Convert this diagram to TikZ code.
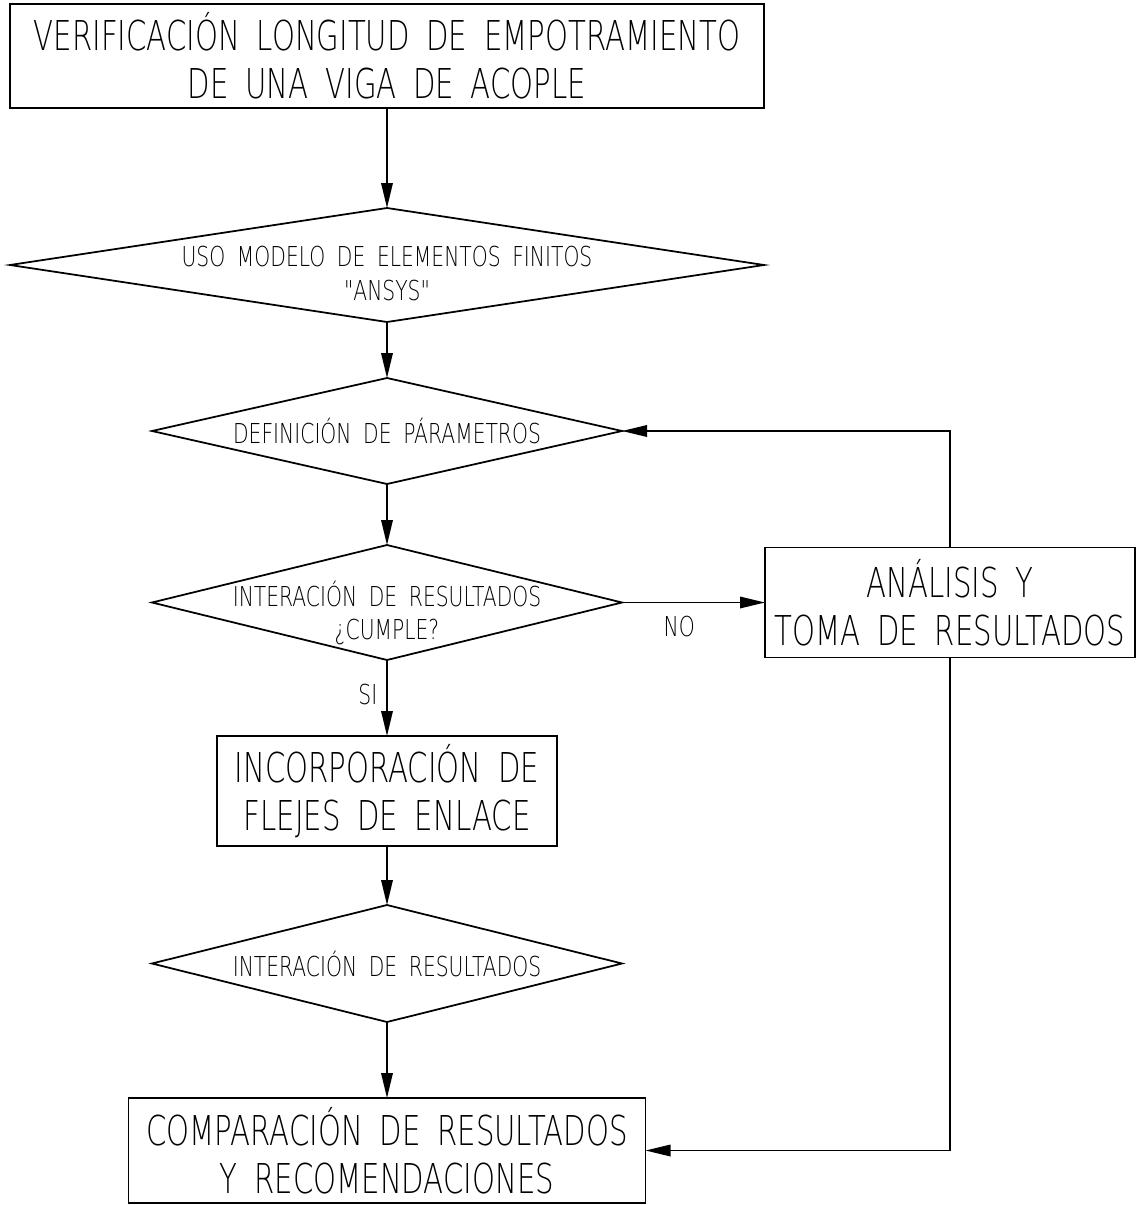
\documentclass[tikz,border=0pt]{standalone}
\usepackage{fontspec}
\usetikzlibrary{positioning,shapes.geometric,arrows.meta}
\newfontfamily\cadtall[FakeStretch=0.71,WordSpace=1.8]{DejaVu Sans ExtraLight}
\newfontfamily\cadsmall[FakeStretch=0.74,WordSpace=1.8]{DejaVu Sans ExtraLight}
\tikzset{box node/.style={rectangle,draw,line width=1pt,inner sep=0pt,outer sep=0pt,align=center},
         dia node/.style={diamond,draw,line width=1pt,inner sep=0pt,outer sep=0pt},
         big text/.style={font=\cadtall\fontsize{23.4}{27.5}\selectfont},
         small text/.style={align=center,inner sep=1pt,font=\cadsmall\fontsize{15.6}{18.8}\selectfont},
         arr/.style={line width=1pt,-{Triangle[length=0.5cm,width=0.23cm]}},
            }

\begin{document}
\begin{tikzpicture}
    \useasboundingbox (0,0) rectangle (22.74,-24.1);

    \node[box node,big text,minimum width=15.08cm,minimum height=2.08cm] (verif) at (7.74,-1.12)
        {VERIFICACIÓN LONGITUD DE EMPOTRAMIENTO\\DE UNA VIGA DE ACOPLE};
    \node[dia node,minimum width=15.08cm,minimum height=2.28cm] (modelo) [below = 2cm of verif] {};
    \node[dia node,minimum width=9.4cm,minimum height=2.12cm] (param) [below = 1.12cm of modelo] {};
    \node[dia node,minimum width=9.4cm,minimum height=2.3cm] (cumple) [below = 1.22cm of param] {};
    \node[box node,big text,minimum width=6.8cm,minimum height=2.2cm] (flejes) [below = 1.52cm of cumple]
        {INCORPORACIÓN DE\\FLEJES DE ENLACE};
    \node[dia node,minimum width=9.4cm,minimum height=2.34cm] (interac) [below = 1.18cm of flejes] {};
    \node[box node,big text,minimum width=10.34cm,minimum height=2.1cm] (compar) [below = 1.52cm of interac]
        {COMPARACIÓN DE RESULTADOS\\Y RECOMENDACIONES};
    \node[box node,big text,minimum width=7.4cm,minimum height=2.2cm] (analisis) [right = 2.86cm of cumple]
        {ANÁLISIS Y\\TOMA DE RESULTADOS};

    % textos de los rombos
    \node[small text] (tmodelo) [below = 0.17cm of modelo.center,anchor=center]
        {USO MODELO DE ELEMENTOS FINITOS\\"ANSYS"};
    \node[small text] (tparam) at (param) {DEFINICIÓN DE PÁRAMETROS};
    \node[small text] (tcumple) [below = 0.2cm of cumple.center,anchor=center]
        {INTERACIÓN DE RESULTADOS\\¿CUMPLE?};
    \node[small text] (tinterac) at (interac) {INTERACIÓN DE RESULTADOS};

    \path[draw,arr]
    (verif) edge (modelo)
    (modelo) edge (param)
    (param) edge (cumple)
    (cumple) edge node[small text,left=4pt,pos=0.45] {SI} (flejes)
    (flejes) edge (interac)
    (interac) edge (compar)
    (cumple) edge node[small text,below=6pt,pos=0.4] {NO} (analisis);

    \draw[arr] (analisis.north) |- (param.east);
    \draw[arr] (analisis.south) |- (compar.east);

\end{tikzpicture}
\end{document}
